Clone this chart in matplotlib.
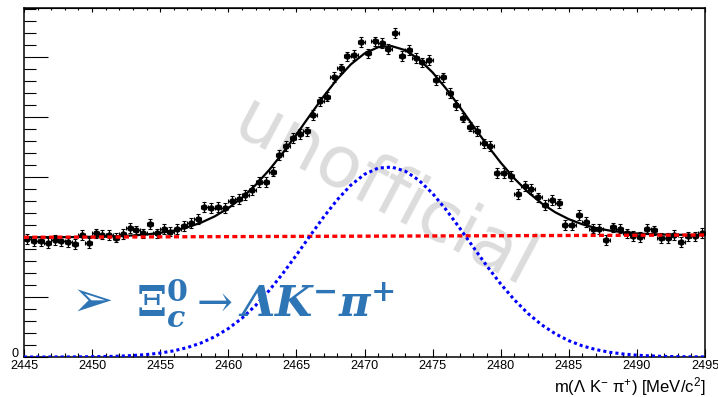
import matplotlib.pyplot as plt
import numpy as np
from matplotlib.ticker import MultipleLocator, FixedLocator, FixedFormatter

plt.rcParams['font.family'] = ['Liberation Sans', 'DejaVu Sans']
plt.rcParams['mathtext.fontset'] = 'custom'
plt.rcParams['mathtext.rm'] = 'Liberation Sans'
plt.rcParams['mathtext.it'] = 'Liberation Sans:italic'
plt.rcParams['mathtext.bf'] = 'Liberation Sans:bold'

# histogram: 0.5 MeV bins from 2445 to 2495
m_lo, m_hi, bin_w = 2445.0, 2495.0, 0.5
counts = [197, 193, 193, 190, 195, 193, 191, 188, 203, 190,
          206, 204, 203, 199, 205, 215, 211, 206, 222, 206,
          213, 209, 213, 218, 223, 230, 250, 248, 250, 248,
          260, 263, 270, 278, 292, 292, 309, 337, 352, 365,
          372, 376, 403, 426, 434, 467, 481, 501, 503, 525,
          506, 526, 523, 513, 540, 502, 512, 498, 491, 495,
          462, 466, 440, 420, 399, 384, 377, 356, 352, 307,
          307, 302, 272, 285, 280, 266, 253, 262, 256, 220,
          220, 237, 225, 214, 213, 195, 216, 214, 206, 202,
          200, 213, 211, 198, 198, 203, 192, 201, 201, 207]
count_err = 8

# fit components, read every 1 MeV
fit_mass = list(range(2445, 2496))
sig_curve = [0.0, 0.0, 0.1, 0.1, 0.2, 0.5, 0.8, 1.4, 2.5, 4.1,
             6.6, 10.3, 15.8, 23.4, 33.8, 47.4, 64.6, 85.8, 110.8, 139.1,
             169.9, 201.9, 233.3, 262.1, 286.5, 304.5, 314.9, 316.6, 309.7, 294.5,
             272.5, 245.2, 214.6, 182.7, 151.2, 121.8, 95.4, 72.6, 53.8, 38.8,
             27.2, 18.5, 12.3, 7.9, 5.0, 3.0, 1.8, 1.0, 0.6, 0.3, 0.2]
bkg_ends = [199.5, 203.3]

y_max = 581.7
x_ticks_major = [2445, 2450, 2455, 2460, 2465, 2470, 2475, 2480, 2485, 2490, 2495]
y_ticks_major = [0, 100, 200, 300, 400, 500]
y_tick_labels = ['0', '', '', '', '', '']

centers = np.arange(m_lo + bin_w / 2, m_hi, bin_w)
bkg_curve = np.linspace(bkg_ends[0], bkg_ends[1], len(fit_mass))
total_curve = np.array(sig_curve) + bkg_curve

fig = plt.figure(figsize=(7.18, 3.97), dpi=100)
ax = fig.add_axes([24 / 718, 1 - 357 / 397, 681 / 718, 349 / 397])

ax.errorbar(centers, counts, xerr=bin_w / 2, yerr=count_err, fmt='o', ms=3.6,
            color='black', ecolor='black', elinewidth=0.8, capsize=1.4,
            capthick=0.8, zorder=3)
ax.plot(fit_mass, total_curve, color='black', lw=1.6, zorder=4)
ax.plot([m_lo, m_hi], bkg_ends, color='red', lw=2.4, ls=(0, (1.5, 1.0)), zorder=5)
ax.plot(fit_mass, sig_curve, color='blue', lw=2.2, ls=(0, (1, 1)), zorder=5)

ax.set_xlim(m_lo, m_hi)
ax.set_ylim(0, y_max)

ax.xaxis.set_major_locator(FixedLocator(x_ticks_major))
ax.xaxis.set_minor_locator(MultipleLocator(1))
ax.yaxis.set_major_locator(FixedLocator(y_ticks_major))
ax.yaxis.set_major_formatter(FixedFormatter(y_tick_labels))
ax.yaxis.set_minor_locator(MultipleLocator(20))
ax.tick_params(axis='x', which='major', direction='in', length=5.8, width=0.8,
               labelsize=9.1, pad=2.5)
ax.tick_params(axis='x', which='minor', direction='in', length=2.9, width=0.8)
ax.tick_params(axis='y', which='major', direction='in', length=17, width=0.8,
               labelsize=9.1, pad=4)
ax.tick_params(axis='y', which='minor', direction='in', length=8.6, width=0.8)
plt.setp(ax.get_yticklabels(), va='baseline')
for s in ax.spines.values():
    s.set_linewidth(1.1)

top = ax.secondary_xaxis('top')
top.xaxis.set_major_locator(FixedLocator(x_ticks_major))
top.xaxis.set_minor_locator(MultipleLocator(1))
top.tick_params(which='major', direction='in', length=3, width=0.8, labeltop=False)
top.tick_params(which='minor', direction='in', length=1.5, width=0.8)

ax.set_xlabel('m(Λ K$^{-}$ π$^{+}$) [MeV/c$^{2}$]', loc='right',
              fontsize=12, labelpad=2)

ax.text(0.536, 0.51, 'unofficial', transform=fig.transFigure, rotation=-28,
        color='#dcdcdc', fontsize=52, family='DejaVu Sans', ha='center',
        va='center', zorder=0.5)

blue = '#2e75b6'
fig.text(92 / 718, 1 - 302 / 397, '\u27a2', color=blue, fontsize=36,
         family='DejaVu Sans', ha='center', va='center')
fig.text(136 / 718, 1 - 317 / 397,
         r'$\mathbf{\Xi}_{\mathbfit{c}}^{\mathbf{0}}\rightarrow\mathbfit{\Lambda K}^{\mathbf{-}}\mathbfit{\pi}^{\mathbf{+}}$',
         color=blue, fontsize=31, math_fontfamily='dejavuserif', ha='left',
         va='baseline')

fig.savefig('out.png', dpi=100)
